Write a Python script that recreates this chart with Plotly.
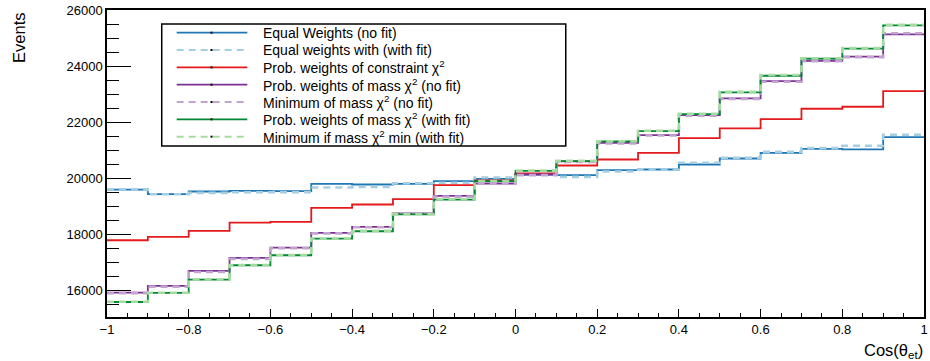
import plotly.graph_objects as go

# ---------------- data ----------------
bin_edges = [-1.0, -0.9, -0.8, -0.7, -0.6, -0.5, -0.4, -0.3, -0.2, -0.1, 0.0,
             0.1, 0.2, 0.3, 0.4, 0.5, 0.6, 0.7, 0.8, 0.9, 1.0]

equal_nofit = [19590, 19430, 19525, 19548, 19536, 19798, 19774, 19798, 19893, 19976,
               20131, 20107, 20286, 20310, 20488, 20702, 20905, 21048, 21024, 21464]
equal_fit = [19607, 19429, 19476, 19500, 19500, 19667, 19690, 19821, 19833, 20024,
             20131, 20048, 20238, 20310, 20548, 20726, 20940, 21071, 21155, 21548]
prob_constraint = [17786, 17905, 18119, 18417, 18440, 18940, 19060, 19250, 19750, 19917,
                   20167, 20452, 20667, 20905, 21429, 21774, 22107, 22476, 22548, 23107]
prob_mass_nofit = [15917, 16155, 16690, 17155, 17524, 18048, 18262, 18740, 19369, 19810,
                   20131, 20600, 21262, 21536, 22250, 22845, 23464, 24190, 24333, 25131]
min_mass_nofit = [15900, 16130, 16650, 17120, 17500, 18030, 18250, 18730, 19340, 19800,
                  20110, 20580, 21240, 21520, 22230, 22830, 23440, 24170, 24320, 25170]
prob_mass_fit = [15583, 15905, 16381, 16893, 17250, 17845, 18107, 18710, 19238, 19893,
                 20262, 20607, 21310, 21679, 22286, 23060, 23655, 24262, 24619, 25452]
min_mass_fit = [15590, 15910, 16390, 16900, 17260, 17850, 18120, 18720, 19250, 19900,
                20270, 20620, 21320, 21690, 22300, 23080, 23680, 24280, 24640, 25476]

series_names = [
    "Equal Weights (no fit)",
    "Equal weights with (with fit)",
    "Prob. weights of constraint χ<sup>2</sup>",
    "Prob. weights of mass χ<sup>2</sup> (no fit)",
    "Minimum of mass χ<sup>2</sup> (no fit)",
    "Prob. weights of mass χ<sup>2</sup> (with fit)",
    "Minimum if mass χ<sup>2</sup> min (with fit)",
]
series_values = [equal_nofit, equal_fit, prob_constraint, prob_mass_nofit,
                 min_mass_nofit, prob_mass_fit, min_mass_fit]

x_ticks = [-1, -0.8, -0.6, -0.4, -0.2, 0, 0.2, 0.4, 0.6, 0.8, 1]
y_ticks = [16000, 18000, 20000, 22000, 24000, 26000]

# ---------------- styles ----------------
styles = [
    dict(color="#1f78b4", width=1.8, dash="solid"),
    dict(color="#a6cee3", width=2.6, dash="7px,5px"),
    dict(color="#e31a1c", width=1.8, dash="solid"),
    dict(color="#7b3294", width=1.8, dash="solid"),
    dict(color="#c2a5cf", width=2.6, dash="7px,5px"),
    dict(color="#008837", width=1.8, dash="solid"),
    dict(color="#a6dba0", width=2.6, dash="7px,5px"),
]

W, H = 930, 361
L, R, T, B = 107, 2, 10, 44
PW = W - L - R
PH = H - T - B
FONT = "Liberation Sans, Arial, Helvetica, sans-serif"


def px_x(px):
    return (px - L) / PW


def px_y(py):
    return (H - B - py) / PH


fig = go.Figure()
for name, vals, st in zip(series_names, series_values, styles):
    fig.add_trace(go.Scatter(
        x=bin_edges, y=list(vals) + [vals[-1]],
        mode="lines", line=dict(shape="hv", **st),
        name=name, showlegend=False, hoverinfo="skip",
    ))

# ---------------- manual legend (ROOT-style) ----------------
shapes = [dict(type="rect", xref="paper", yref="paper",
               x0=px_x(162), x1=px_x(568), y0=px_y(146), y1=px_y(24),
               line=dict(color="black", width=1.5), fillcolor="white", layer="above")]
annotations = []
for i, (name, st) in enumerate(zip(series_names, styles)):
    ry = 32.7 + i * 17.33
    shapes.append(dict(type="line", xref="paper", yref="paper",
                       x0=px_x(177), x1=px_x(248), y0=px_y(ry), y1=px_y(ry),
                       line=dict(color=st["color"], width=st["width"] if st["dash"] == "solid" else 2,
                                 dash=st["dash"]), layer="above"))
    shapes.append(dict(type="rect", xref="paper", yref="paper",
                       x0=px_x(211), x1=px_x(213), y0=px_y(ry + 1), y1=px_y(ry - 1),
                       line=dict(width=0), fillcolor="black", layer="above"))
    annotations.append(dict(xref="paper", yref="paper", x=px_x(262), y=px_y(ry),
                            xanchor="left", yanchor="middle", showarrow=False,
                            text=name, font=dict(family=FONT, size=14, color="black")))

annotations.append(dict(xref="paper", yref="paper", x=px_x(18), y=px_y(37.5),
                        xanchor="center", yanchor="middle", textangle=-90, showarrow=False,
                        text="Events", font=dict(family=FONT, size=16.5, color="black")))
annotations.append(dict(xref="paper", yref="paper", x=px_x(929), y=px_y(339),
                        xanchor="right", yanchor="top", showarrow=False,
                        text="Cos(θ<sub>et</sub>)", font=dict(family=FONT, size=16.5, color="black")))

fig.update_layout(
    width=W, height=H,
    margin=dict(l=L, r=R, t=T, b=B, pad=0),
    paper_bgcolor="white", plot_bgcolor="white",
    font=dict(family=FONT, size=13, color="black"),
    shapes=shapes, annotations=annotations,
    showlegend=False,
)
fig.update_xaxes(
    range=[-1, 1], tickvals=x_ticks, ticks="inside", ticklen=8, tickwidth=1,
    tickcolor="black", showline=True, linecolor="black", linewidth=1.5, mirror=True,
    showgrid=False, zeroline=False, tickfont=dict(family=FONT, size=13, color="black"),
    minor=dict(dtick=0.05, tick0=-1, ticks="inside", ticklen=4, tickcolor="black", showgrid=False),
)
fig.update_yaxes(
    range=[15047, 26000], tickvals=y_ticks, tickformat="d", ticks="inside", ticklen=24,
    tickwidth=1, tickcolor="black", showline=True, linecolor="black", linewidth=1.5,
    mirror=True, showgrid=False, zeroline=False,
    tickfont=dict(family=FONT, size=13, color="black"),
    minor=dict(dtick=500, tick0=0, ticks="inside", ticklen=12, tickcolor="black", showgrid=False),
)

fig.write_html("out.html")
